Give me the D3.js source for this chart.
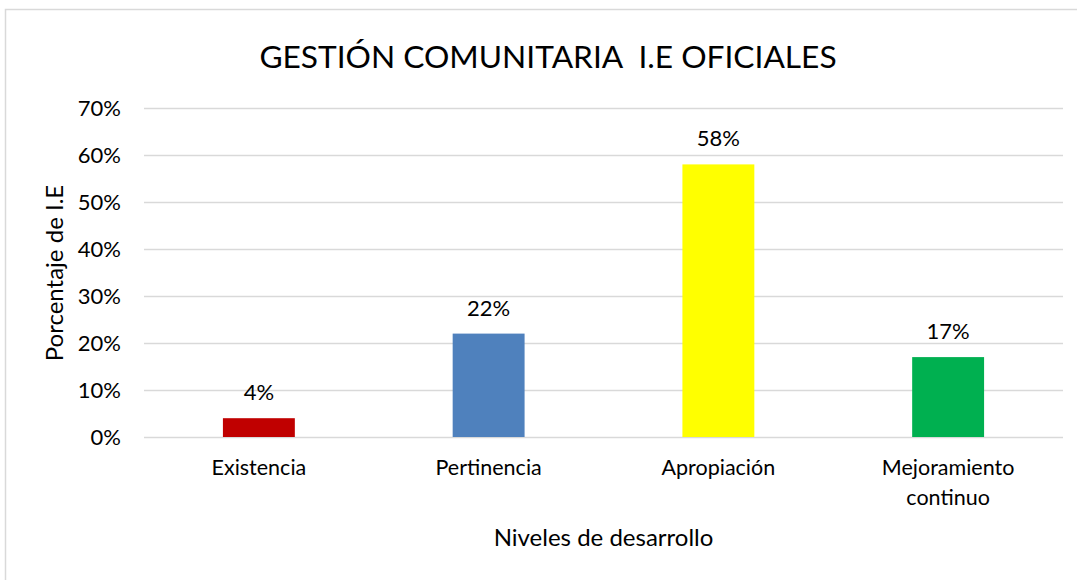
<!DOCTYPE html>
<html>
<head>
<meta charset="utf-8">
<script src="https://cdn.jsdelivr.net/npm/d3@7"></script>
<style>
  body { margin: 0; background: #fff; }
  text { font-family: Lato, "Open Sans", sans-serif; fill: #000; }
</style>
</head>
<body>
<div id="chart"></div>
<script>
// data
var categories = ["Existencia", "Pertinencia", "Apropiación", "Mejoramiento continuo"];
var values = [0.04, 0.22, 0.58, 0.17];
var barColors = ["#c00000", "#4f81bd", "#ffff00", "#00b050"];
var yTicks = [0, 0.1, 0.2, 0.3, 0.4, 0.5, 0.6, 0.7];

var W = 1077, H = 580;
var plot = {left: 144, right: 1063, top: 108, bottom: 437};

var svg = d3.select("#chart").append("svg")
    .attr("width", W)
    .attr("height", H);

svg.append("rect")
    .attr("width", W).attr("height", H)
    .attr("fill", "#fff");

// chart border (runs off right / bottom edge)
svg.append("rect")
    .attr("x", 5.5).attr("y", 9.5)
    .attr("width", W + 10).attr("height", H + 10)
    .attr("fill", "none")
    .attr("stroke", "#d9d9d9")
    .attr("stroke-width", 1.5);

var x = d3.scaleBand()
    .domain(categories)
    .range([plot.left, plot.right])
    .paddingInner(0.687)
    .paddingOuter(0.3435);

var y = d3.scaleLinear()
    .domain([0, 0.7])
    .range([plot.bottom, plot.top]);

// gridlines
svg.append("g")
  .selectAll("line")
  .data(yTicks)
  .enter().append("line")
    .attr("x1", plot.left)
    .attr("x2", plot.right)
    .attr("y1", function(d) { return Math.round(y(d)) + 0.5; })
    .attr("y2", function(d) { return Math.round(y(d)) + 0.5; })
    .attr("stroke", "#d9d9d9")
    .attr("stroke-width", 1.5);

// y axis labels
var yAxis = d3.axisLeft(y)
    .tickValues(yTicks)
    .tickFormat(d3.format(".0%"))
    .tickSize(0)
    .tickPadding(0);

var gy = svg.append("g")
    .attr("transform", "translate(121,0)")
    .call(yAxis);
gy.select(".domain").remove();
gy.selectAll("text")
    .attr("font-size", 22)
    .attr("font-family", "Lato")
    .attr("fill", "#000")
    .attr("dy", "0.36em");

// bars
svg.append("g")
  .selectAll("rect")
  .data(values)
  .enter().append("rect")
    .attr("x", function(d, i) { return x(categories[i]); })
    .attr("y", function(d) { return y(d); })
    .attr("width", x.bandwidth())
    .attr("height", function(d) { return y(0) - y(d); })
    .attr("fill", function(d, i) { return barColors[i]; });

// data labels
svg.append("g")
  .selectAll("text")
  .data(values)
  .enter().append("text")
    .attr("x", function(d, i) { return x(categories[i]) + x.bandwidth() / 2; })
    .attr("y", function(d) { return y(d) - 18; })
    .attr("text-anchor", "middle")
    .attr("font-size", 22)
    .text(function(d) { return d3.format(".0%")(d); });

// category labels (wrap "Mejoramiento continuo")
var catLabels = svg.append("g")
  .selectAll("text")
  .data(categories)
  .enter().append("text")
    .attr("x", function(d) { return x(d) + x.bandwidth() / 2; })
    .attr("y", 475)
    .attr("text-anchor", "middle")
    .attr("font-size", 21.5);

catLabels.each(function(d) {
  var words = d === "Mejoramiento continuo" ? ["Mejoramiento", "continuo"] : [d];
  var t = d3.select(this);
  words.forEach(function(w, i) {
    t.append("tspan")
      .attr("x", t.attr("x"))
      .attr("dy", i === 0 ? 0 : 30)
      .text(w);
  });
});

// title
svg.append("text")
    .attr("x", 548)
    .attr("y", 68)
    .attr("text-anchor", "middle")
    .attr("font-size", 31.7)
    .attr("xml:space", "preserve")
    .style("white-space", "pre")
    .text("GESTIÓN COMUNITARIA  I.E OFICIALES");

// axis titles
svg.append("text")
    .attr("transform", "translate(63,273) rotate(-90)")
    .attr("text-anchor", "middle")
    .attr("font-size", 24)
    .text("Porcentaje de I.E");

svg.append("text")
    .attr("x", (plot.left + plot.right) / 2)
    .attr("y", 546)
    .attr("text-anchor", "middle")
    .attr("font-size", 24)
    .text("Niveles de desarrollo");
</script>
</body>
</html>
